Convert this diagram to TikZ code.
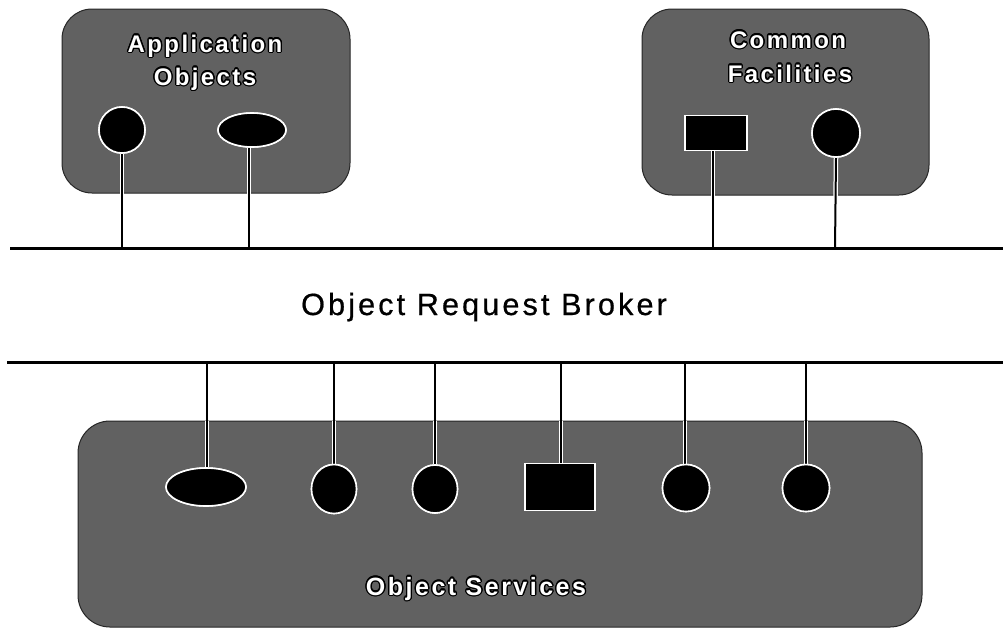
\documentclass[tikz,border=0pt]{standalone}
\usepackage{fontspec}
\setmainfont{Liberation Sans}
\newfontfamily\lblfont{Liberation Sans}[LetterSpace=10]
% spaced regular face, a little thickened
\newfontfamily\busfont{Liberation Sans}[LetterSpace=10, FakeBold=0.6]
\usepackage{contour}
\contourlength{1.3pt}
\usetikzlibrary{shapes.geometric}

\tikzset{
  panel/.style={fill=black!62, draw=black!85, line width=1pt, rounded corners=30pt},
  blob/.style={ellipse, fill=black, draw=white, line width=1.6pt, inner sep=0pt},
  block/.style={rectangle, fill=black, draw=white, line width=1.6pt, inner sep=0pt},
  halo/.style={draw=white, line width=4.5pt},
  wire/.style={draw=black, line width=2pt},
  bus/.style={draw=black, line width=3pt},
  title/.style={font=\lblfont\bfseries\fontsize{24}{33}\selectfont, align=center, text=white, inner sep=0pt},
}
% white letters with a black outline
\newcommand{\outlined}[1]{\contour{black}{\textcolor{white}{#1}}}

\begin{document}
\begin{tikzpicture}[x=1pt, y=-1pt]
  \useasboundingbox (0,0) rectangle (1003,630);

  % panels
  \draw[panel] (62,9) rectangle (350,193);
  \draw[panel] (642,9) rectangle (929,195);
  \draw[panel, rounded corners=32pt] (78,421) rectangle (922,627);

  % objects in the panels
  \node[blob, minimum width=46pt, minimum height=46pt] (a1) at (122,130) {};
  \node[blob, minimum width=68pt, minimum height=34pt] (a2) at (252,130) {};
  \node[block, minimum width=62pt, minimum height=35pt] (f1) at (716,133) {};
  \node[blob, minimum width=48pt, minimum height=48pt] (f2) at (836,133) {};

  \node[blob, minimum width=80pt, minimum height=38pt] (s1) at (206,487) {};
  \node[blob, minimum width=45pt, minimum height=49pt] (s2) at (334,489) {};
  \node[blob, minimum width=45pt, minimum height=48pt] (s3) at (435,489) {};
  \node[block, minimum width=70pt, minimum height=47pt] (s4) at (560,487) {};
  \node[blob, minimum width=47pt, minimum height=47pt] (s5) at (686,488) {};
  \node[blob, minimum width=47pt, minimum height=47pt] (s6) at (806,488) {};

  % taps on the two buses
  \coordinate (ta1) at (122,248);
  \coordinate (ta2) at (249,248);
  \coordinate (tf1) at (713,248);
  \coordinate (tf2) at (835,248);
  \coordinate (bs1) at (207,362);
  \coordinate (bs2) at (334,362);
  \coordinate (bs3) at (435,362);
  \coordinate (bs4) at (561,362);
  \coordinate (bs5) at (685,362);
  \coordinate (bs6) at (806,362);

  % connectors: white halo first, then the black wire
  \foreach \o/\t in {a1/ta1, f2/tf2} {
    \draw[halo] (\o.south) -- (\t);
    \draw[wire] (\o.south) -- (\t);
  }
  \draw[halo] (a2.south -| ta2) -- (ta2);
  \draw[wire] (a2.south -| ta2) -- (ta2);
  \draw[halo] (f1.south -| tf1) -- (tf1);
  \draw[wire] (f1.south -| tf1) -- (tf1);
  \foreach \o/\t in {s1/bs1, s2/bs2, s3/bs3, s4/bs4, s5/bs5, s6/bs6} {
    \draw[halo] (\o.north -| \t) -- (\t |- 421,421);
    \draw[wire] (\o.north -| \t) -- (\t);
  }

  % redraw the objects above their wires
  \node[blob, minimum width=46pt, minimum height=46pt] at (a1) {};
  \node[blob, minimum width=68pt, minimum height=34pt] at (a2) {};
  \node[block, minimum width=62pt, minimum height=35pt] at (f1) {};
  \node[blob, minimum width=48pt, minimum height=48pt] at (f2) {};
  \node[blob, minimum width=80pt, minimum height=38pt] at (s1) {};
  \node[blob, minimum width=45pt, minimum height=49pt] at (s2) {};
  \node[blob, minimum width=45pt, minimum height=48pt] at (s3) {};
  \node[block, minimum width=70pt, minimum height=47pt] at (s4) {};
  \node[blob, minimum width=47pt, minimum height=47pt] at (s5) {};
  \node[blob, minimum width=47pt, minimum height=47pt] at (s6) {};

  % the two bus lines
  \coordinate (busAw) at (10,248);
  \coordinate (busAe) at (1003,248);
  \coordinate (busBw) at (7,362);
  \coordinate (busBe) at (1003,362);
  \draw[bus] (busAw) -- (busAe);
  \draw[bus] (busBw) -- (busBe);

  % labels
  \node[title, anchor=base] (appA) at (205,52) {\outlined{Application}};
  \node[title, anchor=base] (appB) at (205,85) {\outlined{Objects}};
  \node[title, anchor=base] (facA) at (788,48) {\outlined{Common}};
  \node[title, anchor=base] (facB) at (790,82) {\outlined{Facilities}};
  \node[title, anchor=base, font=\lblfont\bfseries\fontsize{25}{30}\selectfont] (svc) at (476,595) {\outlined{Object Services}};
  \node[anchor=base, inner sep=0pt, font=\busfont\fontsize{30.7}{36}\selectfont] (orb) at (484,315) {Object Request Broker};
\end{tikzpicture}
\end{document}
